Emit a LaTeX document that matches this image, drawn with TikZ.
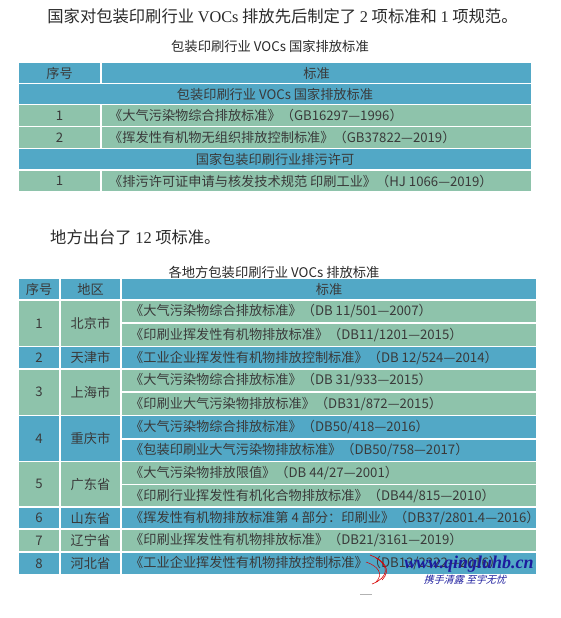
\documentclass[tikz,border=0pt]{standalone}
\usepackage{fontspec}
\setmainfont{Noto Sans CJK SC}
\newfontfamily\lat{Liberation Serif}
\definecolor{hdr}{HTML}{52A8C6}
\definecolor{grn}{HTML}{8EC3AB}
\definecolor{txt}{HTML}{3A3A3A}
\definecolor{body}{HTML}{2A2A2A}
\definecolor{wmblue}{HTML}{1C1C9E}
\tikzset{
  cellb/.style={fill=hdr,draw=white,line width=1.6pt},
  cellg/.style={fill=grn,draw=white,line width=1.6pt},
  ttext/.style={font=\fontsize{13.2}{15}\selectfont,text=txt,inner sep=0pt},
  ltext/.style={ttext,anchor=west},
  bodytext/.style={font=\fontsize{16.3}{19}\selectfont,text=body,inner sep=0pt},
  captext/.style={font=\fontsize{13.3}{15}\selectfont,text=body,inner sep=0pt}
}
\begin{document}
\begin{tikzpicture}[x=1pt,y=-1pt]
\useasboundingbox[fill=white] (0,0) rectangle (561,618);
% body text
\node[bodytext] (l1) at (282.5,16) {国家对包装印刷行业 {\lat VOCs} 排放先后制定了 {\lat 2} 项标准和 {\lat 1} 项规范。};
\node[captext] (c1) at (270,46) {包装印刷行业 VOCs 国家排放标准};
% table 1
\path[cellb] (18,62) rectangle (101,83.5);
\path[cellb] (101,62) rectangle (532,83.5);
\path[cellb] (18,83.5) rectangle (532,104.5);
\path[cellg] (18,104.5) rectangle (101,126.5);
\path[cellg] (101,104.5) rectangle (532,126.5);
\path[cellg] (18,126.5) rectangle (101,148.5);
\path[cellg] (101,126.5) rectangle (532,148.5);
\path[cellb] (18,148.5) rectangle (532,170);
\path[cellg] (18,170) rectangle (101,192);
\path[cellg] (101,170) rectangle (532,192);
\node[ttext] (a1) at (59.5,73) {序号};
\node[ttext] (a2) at (316.5,73) {标准};
\node[ttext] (a3) at (275,94) {包装印刷行业 VOCs 国家排放标准};
\node[ttext] (a4) at (59.5,115.5) {1};
\node[ltext] (a5) at (109,115.5) {《大气污染物综合排放标准》（GB16297—1996）};
\node[ttext] (a6) at (59.5,137.5) {2};
\node[ltext] (a7) at (109,137.5) {《挥发性有机物无组织排放控制标准》（GB37822—2019）};
\node[ttext] (a8) at (275,159.3) {国家包装印刷行业排污许可};
\node[ttext] (a9) at (59.5,181) {1};
\node[ltext] (a10) at (109,181) {《排污许可证申请与核发技术规范 印刷工业》（HJ 1066—2019）};
% second part
\node[bodytext,anchor=west] (l2) at (50,237) {地方出台了 {\lat 12} 项标准。};
\node[captext] (c2) at (274,272) {各地方包装印刷行业 VOCs 排放标准};
% table 2
\path[cellb] (18,278.5) rectangle (60,300);
\path[cellb] (60,278.5) rectangle (121,300);
\path[cellb] (121,278.5) rectangle (537,300);
% row 1
\path[cellg] (18,300) rectangle (60,346.5);
\path[cellg] (60,300) rectangle (121,346.5);
\path[cellg] (121,300) rectangle (537,323);
\path[cellg] (121,323) rectangle (537,346.5);
% row 2
\path[cellb] (18,346.5) rectangle (60,369);
\path[cellb] (60,346.5) rectangle (121,369);
\path[cellb] (121,346.5) rectangle (537,369);
% row 3
\path[cellg] (18,369) rectangle (60,415.5);
\path[cellg] (60,369) rectangle (121,415.5);
\path[cellg] (121,369) rectangle (537,392);
\path[cellg] (121,392) rectangle (537,415.5);
% row 4
\path[cellb] (18,415.5) rectangle (60,461.5);
\path[cellb] (60,415.5) rectangle (121,461.5);
\path[cellb] (121,415.5) rectangle (537,439);
\path[cellb] (121,439) rectangle (537,461.5);
% row 5
\path[cellg] (18,461.5) rectangle (60,507);
\path[cellg] (60,461.5) rectangle (121,507);
\path[cellg] (121,461.5) rectangle (537,484.5);
\path[cellg] (121,484.5) rectangle (537,507);
% row 6
\path[cellb] (18,507) rectangle (60,529);
\path[cellb] (60,507) rectangle (121,529);
\path[cellb] (121,507) rectangle (537,529);
% row 7
\path[cellg] (18,529) rectangle (60,552);
\path[cellg] (60,529) rectangle (121,552);
\path[cellg] (121,529) rectangle (537,552);
% row 8
\path[cellb] (18,552) rectangle (60,575);
\path[cellb] (60,552) rectangle (121,575);
\path[cellb] (121,552) rectangle (537,575);
% table 2 text
\node[ttext] (b1) at (39,289.5) {序号};
\node[ttext] (b2) at (90.5,289.5) {地区};
\node[ttext] (b3) at (329,289.5) {标准};
\node[ttext] (r1n) at (39,323.5) {1};
\node[ttext] (r1c) at (90.5,323.5) {北京市};
\node[ltext] (r1a) at (130,311.5) {《大气污染物综合排放标准》（DB 11/501—2007）};
\node[ltext] (r1b) at (130,335) {《印刷业挥发性有机物排放标准》（DB11/1201—2015）};
\node[ttext] (r2n) at (39,357.8) {2};
\node[ttext] (r2c) at (90.5,357.8) {天津市};
\node[ltext] (r2a) at (130,357.8) {《工业企业挥发性有机物排放控制标准》（DB 12/524—2014）};
\node[ttext] (r3n) at (39,392) {3};
\node[ttext] (r3c) at (90.5,392) {上海市};
\node[ltext] (r3a) at (130,380.5) {《大气污染物综合排放标准》（DB 31/933—2015）};
\node[ltext] (r3b) at (130,403.8) {《印刷业大气污染物排放标准》（DB31/872—2015）};
\node[ttext] (r4n) at (39,438.5) {4};
\node[ttext] (r4c) at (90.5,438.5) {重庆市};
\node[ltext] (r4a) at (130,427.3) {《大气污染物综合排放标准》（DB50/418—2016）};
\node[ltext] (r4b) at (130,450.3) {《包装印刷业大气污染物排放标准》（DB50/758—2017）};
\node[ttext] (r5n) at (39,484.3) {5};
\node[ttext] (r5c) at (90.5,484.3) {广东省};
\node[ltext] (r5a) at (130,473) {《大气污染物排放限值》（DB 44/27—2001）};
\node[ltext] (r5b) at (130,495.8) {《印刷行业挥发性有机化合物排放标准》（DB44/815—2010）};
\node[ttext] (r6n) at (39,518) {6};
\node[ttext] (r6c) at (90.5,518) {山东省};
\node[ltext] (r6a) at (130,518) {《挥发性有机物排放标准第 4 部分：印刷业》（DB37/2801.4—2016）};
\node[ttext] (r7n) at (39,540.5) {7};
\node[ttext] (r7c) at (90.5,540.5) {辽宁省};
\node[ltext] (r7a) at (130,540.5) {《印刷业挥发性有机物排放标准》（DB21/3161—2019）};
\node[ttext] (r8n) at (39,563.5) {8};
\node[ttext] (r8c) at (90.5,563.5) {河北省};
\node[ltext] (r8a) at (130,563.5) {《工业企业挥发性有机物排放控制标准》（DB13/2322—2016）};
% watermark
\draw[red!85!black,line width=0.6pt] (370,555) .. controls (384,560) and (392,570) .. (382,580);
\draw[red!85!black,line width=0.6pt] (376,558) .. controls (390,566) and (388,578) .. (372,584);
\draw[red!85!black,line width=0.5pt] (366,562) .. controls (378,566) and (384,574) .. (376,582);
\node[font=\lat\bfseries\itshape\fontsize{18}{18}\selectfont,text=wmblue,inner sep=0pt] (wm1) at (469,564) {www.qingluhb.cn};
\node[font=\fontsize{10}{10}\selectfont,text=wmblue,inner sep=0pt,xslant=0.3] (wm2) at (466,580) {携手清露 至宇无忧};
\draw[gray!60,line width=0.8pt] (360,594.5) -- (372,594.5);
\end{tikzpicture}
\end{document}
